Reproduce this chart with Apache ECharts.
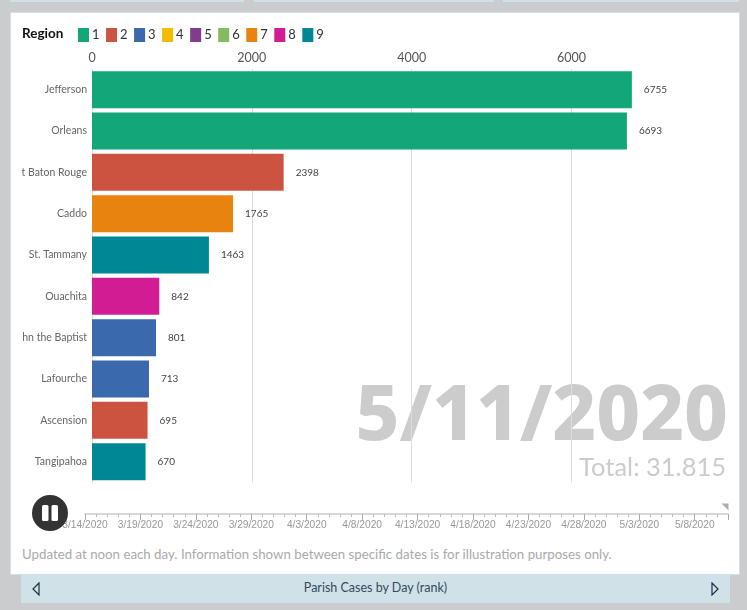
<!DOCTYPE html>
<html>
<head>
<meta charset="utf-8">
<title>Parish Cases by Day (rank)</title>
<script src="https://cdn.jsdelivr.net/npm/echarts@6/dist/echarts.min.js"></script>
<style>
    html, body { margin: 0; padding: 0; width: 747px; height: 610px; overflow: hidden; background: #cbcccd; font-family: Lato, sans-serif; }
    .strip { position: absolute; top: 0; height: 2px; background: #d0e2e8; }
    #card { position: absolute; left: 10px; top: 12px; width: 728px; height: 561px; background: #fff; border: 1px solid #d0e2e8; }
    #chart { position: absolute; left: 22px; top: 13px; width: 716px; height: 525px; }
    #note { position: absolute; left: 22px; top: 546px; font-size: 13.27px; color: #aaa; white-space: nowrap; }
    #footer { position: absolute; left: 21px; top: 574px; width: 709px; height: 29px; background: #d0e2e8; color: #34495e; font-size: 12.5px; line-height: 28px; text-align: center; }
    #footer svg { position: absolute; top: 8px; }
</style>
</head>
<body>
<div class="strip" style="left:10px;width:234px"></div>
<div class="strip" style="left:254px;width:240px"></div>
<div class="strip" style="left:503px;width:236px"></div>
<div id="card"></div>
<div id="chart"></div>
<div id="note">Updated at noon each day. Information shown between specific dates is for illustration purposes only.</div>
<div id="footer">
    <svg style="left:11px" width="8" height="14"><path d="M7 1 L1 7 L7 13 Z" fill="none" stroke="#1b2f4b" stroke-width="1.2"/></svg>
    Parish Cases by Day (rank)
    <svg style="left:690px" width="8" height="14"><path d="M1 1 L7 7 L1 13 Z" fill="none" stroke="#1b2f4b" stroke-width="1.2"/></svg>
</div>
<script>
const parishes = ['Jefferson', 'Orleans', 'East Baton Rouge', 'Caddo', 'St. Tammany', 'Ouachita', 'St. John the Baptist', 'Lafourche', 'Ascension', 'Tangipahoa'];
const cases = [6755, 6693, 2398, 1765, 1463, 842, 801, 713, 695, 670];
const parishRegion = ['1', '1', '2', '7', '9', '8', '3', '3', '2', '9'];
const regions = ['1', '2', '3', '4', '5', '6', '7', '8', '9'];
const regionColors = ['#13a679', '#cc5340', '#3b69ae', '#f4bb00', '#823b8e', '#84bb5e', '#e8830f', '#d11c94', '#008796'];
const days = [
    '3/14/2020', '3/15/2020', '3/16/2020', '3/17/2020', '3/18/2020', '3/19/2020', '3/20/2020', '3/21/2020', '3/22/2020', '3/23/2020',
    '3/24/2020', '3/25/2020', '3/26/2020', '3/27/2020', '3/28/2020', '3/29/2020', '3/30/2020', '3/31/2020', '4/1/2020', '4/2/2020',
    '4/3/2020', '4/4/2020', '4/5/2020', '4/6/2020', '4/7/2020', '4/8/2020', '4/9/2020', '4/10/2020', '4/11/2020', '4/12/2020',
    '4/13/2020', '4/14/2020', '4/15/2020', '4/16/2020', '4/17/2020', '4/18/2020', '4/19/2020', '4/20/2020', '4/21/2020', '4/22/2020',
    '4/23/2020', '4/24/2020', '4/25/2020', '4/26/2020', '4/27/2020', '4/28/2020', '4/29/2020', '4/30/2020', '5/1/2020', '5/2/2020',
    '5/3/2020', '5/4/2020', '5/5/2020', '5/6/2020', '5/7/2020', '5/8/2020', '5/9/2020', '5/10/2020', '5/11/2020'
];
const currentDay = '5/11/2020';
const totalLabel = 'Total: 31.815';

const chart = echarts.init(document.getElementById('chart'));
const baseFont = 'Lato, sans-serif';

// one stacked series per region, so the legend and the colours come from the data
const regionSeries = regions.map((r, i) => ({
    name: r,
    type: 'bar',
    stack: 'rank',
    barWidth: 37,
    xAxisIndex: 0,
    yAxisIndex: 0,
    itemStyle: { color: regionColors[i] },
    label: { show: true, position: 'right', distance: 12, fontSize: 10, fontFamily: baseFont, color: '#444' },
    data: cases.map((v, k) => (parishRegion[k] === r ? v : null))
}));

chart.setOption({
    animation: false,
    legend: {
        left: 51, top: 10,
        itemWidth: 11, itemHeight: 14, itemGap: 6.5,
        icon: 'rect',
        selectedMode: false,
        textStyle: { fontSize: 13, fontFamily: baseFont, color: '#333', padding: [0, 0, 0, -2] },
        data: regions
    },
    grid: [
        // outerBoundsMode off: the long parish names run off the left edge, as in the original
        { left: 70, top: 56, width: 599.4, height: 413.3, outerBoundsMode: 'none' },
        { left: 63, top: 500, width: 643, height: 1, outerBoundsMode: 'none' }
    ],
    xAxis: [
        {
            gridIndex: 0, type: 'value', position: 'top', min: 0, max: 7500, interval: 2000,
            axisLine: { show: false }, axisTick: { show: false },
            axisLabel: { showMaxLabel: false, margin: 5, fontSize: 12.5, fontFamily: baseFont, color: '#555', formatter: v => String(v) },
            splitLine: { showMaxLine: false, lineStyle: { color: '#ddd' } }
        },
        {
            // daily short ticks
            gridIndex: 1, type: 'category', position: 'bottom', boundaryGap: false, data: days,
            axisLine: { lineStyle: { color: '#ccc', width: 1.5 } },
            axisTick: { interval: 0, length: 3, lineStyle: { color: '#bbb' } },
            axisLabel: { show: false }
        },
        {
            // every fifth day gets a long tick and a label
            gridIndex: 1, type: 'category', position: 'bottom', boundaryGap: false, data: days,
            axisLine: { show: false },
            axisTick: { interval: i => i % 5 === 0 || i === days.length - 1, length: 6, lineStyle: { color: '#aaa' } },
            axisLabel: { interval: i => i % 5 === 0, margin: 6, fontSize: 10.2, fontFamily: 'Liberation Sans', color: '#999', hideOverlap: false }
        }
    ],
    yAxis: [
        {
            gridIndex: 0, type: 'category', inverse: true, data: parishes,
            axisLine: { show: false }, axisTick: { show: false },
            axisLabel: { interval: 0, margin: 5, fontSize: 10.5, fontFamily: baseFont, color: '#666' }
        },
        { gridIndex: 1, type: 'value', min: 0, max: 1, show: false }
    ],
    series: regionSeries.concat([{
        // marker for the day on show
        type: 'scatter',
        xAxisIndex: 2, yAxisIndex: 1,
        symbol: 'path://M0 0 L10 0 L10 10 Z',
        symbolSize: [7, 7],
        symbolOffset: [-3, -6],
        itemStyle: { color: '#999' },
        silent: true,
        data: [[currentDay, 1]]
    }]),
    graphic: [
        { type: 'text', left: 0, top: 14, style: { text: 'Region', font: 'bold 13.5px ' + baseFont, fill: '#111' } },
        { type: 'text', z: -1, right: 10, top: 367, style: { text: currentDay, font: '800 76px "Noto Sans"', fill: '#ccc' } },
        { type: 'text', z: -1, right: 12, top: 442, style: { text: totalLabel, font: '25.5px ' + baseFont, fill: '#ccc' } },
        { type: 'circle', z: 10, shape: { cx: 28, cy: 500, r: 18 }, style: { fill: '#333' } },
        { type: 'rect', z: 11, shape: { x: 20, y: 492, width: 6.5, height: 16, r: 1.5 }, style: { fill: '#fff' } },
        { type: 'rect', z: 11, shape: { x: 29.5, y: 492, width: 6.5, height: 16, r: 1.5 }, style: { fill: '#fff' } }
    ]
});
</script>
</body>
</html>
